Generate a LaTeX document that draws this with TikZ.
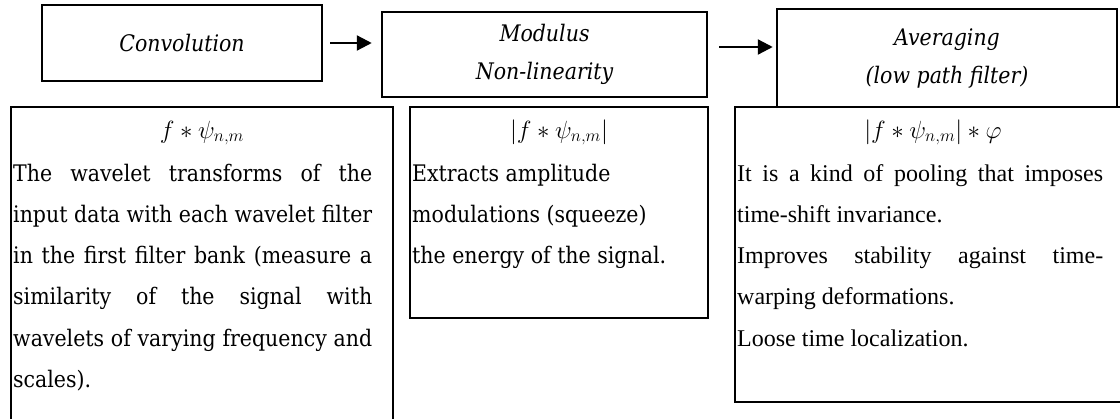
\documentclass[tikz,border=0pt]{standalone}
\usepackage{fontspec}
\newfontfamily\cam{DejaVu Serif Condensed}[ItalicFont={DejaVu Serif Condensed Italic}]
\newfontfamily\tnr{Liberation Serif}
\usetikzlibrary{arrows.meta}
\tikzset{
  frame/.style={draw, line width=2.5pt, inner sep=0pt},
  lab/.style={font=\cam\itshape\fontsize{22.8}{38}\selectfont, align=center},
  arr/.style={line width=2.3pt, -{Triangle[length=15pt,width=15pt]}},
  body/.style={inner sep=0pt, anchor=base west, align=justify},
  camtext/.style={font=\cam\fontsize{22.8}{41.3}\selectfont},
  tnrtext/.style={font=\tnr\fontsize{24}{41.3}\selectfont},
  form/.style={inner sep=0pt, anchor=base, font=\fontsize{24}{28}\selectfont}
}
\newcommand\jline[2]{\makebox[#1][s]{\spaceskip=0pt\relax #2}}
\begin{document}
\begin{tikzpicture}[x=1pt,y=-1pt]
\useasboundingbox (0,0) rectangle (1120,418);
% top boxes
\node[frame, lab, minimum width=280pt, minimum height=76pt] (conv) at (182,43) {Convolution};
\node[frame, lab, minimum width=325pt, minimum height=85pt] (mod) at (544.5,54.5) {Modulus\\Non-linearity};
\node[frame, lab, minimum width=340pt, minimum height=98pt] (avg) at (947,58) {Averaging\\(low path filter)};
% arrows
\draw[arr, shorten <=7pt, shorten >=9pt] (conv.east) -- (conv.east -| mod.west);
\draw[arr, shorten <=11pt, shorten >=3pt] ([yshift=7.5pt]mod.east) -- ([yshift=7.5pt]mod.east -| avg.west);
% lower cells
\node[frame, minimum width=382pt, minimum height=323pt] (c1) at (202,268.5) {};
\node[frame, minimum width=298pt, minimum height=211pt] (c2) at (559,212.5) {};
\node[frame, minimum width=396pt, minimum height=295pt] (c3) at (933,254.5) {};
% formulas
\node[form] (f1) at (202,138) {$f\ast\psi_{n,m}$};
\node[form] (f2) at (559,138) {$\left|f\ast\psi_{n,m}\right|$};
\node[form] (f3) at (933,138) {$\left|f\ast\psi_{n,m}\right|\ast\varphi$};
% texts
\node[body, camtext, text width=359pt] (t1) at (13,181) {%
\jline{359pt}{The wavelet transforms of the}\\
\jline{359pt}{input data with each wavelet filter}\\
\jline{359pt}{in the first filter bank (measure a}\\
\jline{359pt}{similarity of the signal with}\\
\jline{359pt}{wavelets of varying frequency and}\\
scales).};
\node[body, camtext, text width=290pt] (t2) at (412,181) {%
Extracts amplitude\\
modulations (squeeze)\\
the energy of the signal.};
\node[body, tnrtext, text width=366pt] (t3) at (737,181) {%
\jline{366pt}{It is a kind of pooling that imposes}\\
time-shift invariance.\\
\jline{366pt}{Improves stability against time-}\\
warping deformations.\\
Loose time localization.};
\end{tikzpicture}
\end{document}
